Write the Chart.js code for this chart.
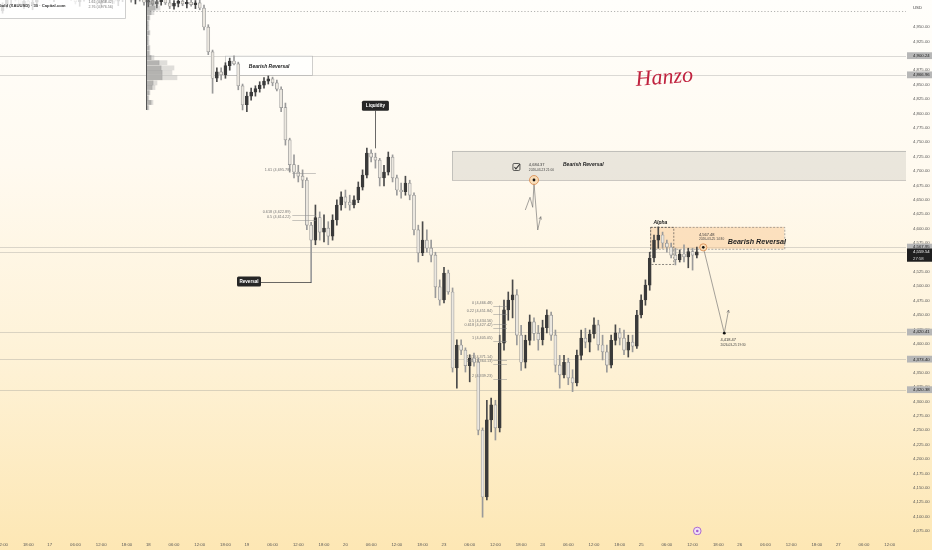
<!DOCTYPE html>
<html><head><meta charset="utf-8">
<script src="https://cdn.jsdelivr.net/npm/chart.js@4.4.1/dist/chart.umd.min.js"></script>
<style>
html,body{margin:0;padding:0;}
body{width:932px;height:550px;overflow:hidden;background:linear-gradient(180deg,#fffefb 0%,#fffaf0 30%,#fef2d7 65%,#fde7b4 100%);}
canvas{display:block;}
</style></head><body>
<canvas id="c" width="932" height="550"></canvas>
<script>
// ---------- DATA (hourly candles, hour index 0 = start of day 17) ----------
const firstHour = -12;
const open = [
4985,4978,4988,4998,5004,5000,4990,4995,4988,4993,5003,5009,
5006,5001,5008,5015,5012,5006,5000,4994,4999,5007,5004,4997,
4991,4996,5003,5000,4995,4998,5005,5002,4997,5001,4999,4993,
4996,4990,4994,4998,4992,4986,4991,4995,4990,4993,4989,4992,
4983,4950,4907,4861,4872,4867,4883,4891,4886,4848,4815,4830,
4837,4843,4849,4856,4860,4853,4842,4810,4754,4711,4698,4691,
4684,4606,4580,4619,4594,4601,4587,4615,4641,4655,4646,4641,
4650,4672,4693,4731,4724,4719,4688,4698,4724,4688,4667,4664,
4679,4658,4598,4558,4580,4566,4554,4499,4476,4523,4490,4358,
4398,4389,4362,4375,4368,4250,4134,4268,4294,4254,4401,4459,
4476,4485,4415,4368,4406,4438,4418,4407,4428,4450,4415,4363,
4346,4368,4341,4332,4380,4410,4403,4417,4433,4398,4386,4363,
4406,4419,4410,4389,4403,4396,4450,4476,4502,4549,4580,4589,
4575,4568,4554,4546,4556,4551,4560,4554];
const high = [
5002,4992,5004,5010,5012,5008,5000,5006,4998,5008,5014,5016,
5015,5012,5020,5024,5018,5014,5010,5004,5012,5016,5011,5006,
5002,5008,5013,5009,5003,5010,5014,5008,5006,5011,5005,5002,
5004,4999,5003,5006,4999,4996,5001,5003,4998,5001,4996,4998,
4988,4954,4910,4879,4879,4888,4896,4900,4889,4851,4837,4844,
4848,4855,4862,4865,4863,4858,4846,4818,4757,4728,4710,4702,
4688,4611,4641,4629,4624,4612,4624,4650,4664,4667,4658,4657,
4681,4702,4740,4737,4731,4722,4710,4733,4728,4693,4679,4691,
4684,4662,4606,4612,4598,4580,4559,4511,4533,4528,4497,4407,
4407,4393,4381,4384,4375,4254,4302,4306,4302,4415,4476,4490,
4511,4494,4432,4415,4450,4445,4432,4441,4459,4455,4424,4380,
4380,4375,4355,4389,4424,4427,4424,4445,4441,4415,4398,4415,
4433,4427,4424,4415,4415,4458,4485,4511,4559,4589,4603,4594,
4580,4575,4566,4563,4572,4566,4566,4568];
const low = [
4972,4974,4983,4990,4995,4986,4982,4984,4980,4990,4998,5001,
4997,4994,5003,5008,5002,4996,4990,4986,4995,5000,4993,4988,
4984,4992,4997,4991,4987,4994,4999,4993,4990,4995,4988,4985,
4987,4983,4988,4989,4982,4981,4985,4987,4983,4986,4982,4980,
4945,4902,4835,4855,4858,4861,4875,4884,4841,4806,4803,4823,
4830,4837,4844,4851,4848,4839,4803,4745,4698,4688,4681,4671,
4598,4506,4572,4580,4577,4572,4580,4606,4632,4636,4632,4636,
4645,4667,4688,4716,4705,4674,4674,4693,4681,4658,4653,4658,
4650,4589,4542,4553,4559,4542,4480,4467,4471,4486,4351,4323,
4381,4351,4334,4361,4242,4099,4129,4247,4233,4247,4389,4441,
4445,4398,4354,4358,4398,4406,4389,4398,4419,4406,4351,4323,
4341,4329,4317,4327,4372,4393,4386,4410,4389,4372,4351,4358,
4398,4398,4381,4377,4386,4392,4445,4467,4493,4542,4566,4566,
4559,4549,4537,4542,4542,4532,4528,4549];
const close = [
4978,4988,4998,5004,5000,4990,4995,4988,4993,5003,5009,5006,
5001,5008,5015,5012,5006,5000,4994,4999,5007,5004,4997,4991,
4996,5003,5000,4995,4998,5005,5002,4997,5001,4999,4993,4996,
4990,4994,4998,4992,4986,4991,4995,4990,4993,4989,4992,4983,
4950,4907,4861,4872,4867,4883,4891,4886,4848,4815,4830,4837,
4843,4849,4856,4860,4853,4842,4810,4754,4711,4698,4691,4684,
4606,4580,4619,4594,4601,4587,4615,4641,4655,4646,4641,4650,
4672,4693,4731,4724,4719,4688,4698,4724,4688,4667,4664,4679,
4658,4598,4558,4580,4566,4554,4499,4476,4523,4490,4358,4398,
4389,4362,4375,4368,4250,4134,4268,4294,4254,4401,4459,4476,
4485,4415,4368,4406,4438,4418,4407,4428,4450,4415,4363,4346,
4368,4341,4332,4380,4410,4403,4417,4433,4398,4386,4363,4406,
4419,4410,4389,4403,4396,4450,4476,4502,4549,4580,4589,4575,
4568,4554,4546,4556,4551,4560,4554,4559.54];

// volume profile (fixed range) bins
const volPrices = [4992,4983,4975,4966,4957,4949,4940,4931,4923,4914,4905,4897,4888,4879,4871,4862,4853,4845,4836,4827,4819,4810];
const volDark   = [7,8,4,2,1,1,2,1,1,2,2,4,12,14,15,15,6,5,2,1,4,1];
const volLight  = [5,5,3,1,1,1,1,1,1,1,1,3,8,13,10,15,4,3,1,1,2,1];

// axis labels
const dayLabels = ['17','18','19','20','23','24','25','26','27'];
const hourLabels = ['06:00','12:00','18:00'];
const hourOffsets = [6,12,18];
const hoursPerDay = 23;
const priceTicks = [4075,4100,4125,4150,4175,4200,4225,4250,4275,4300,4325,4350,4375,4400,4425,4450,4475,4500,4525,4550,4575,4600,4625,4650,4675,4700,4725,4750,4775,4800,4825,4850,4875,4900,4925,4950];
const tagLabels = ['4,900.24','4,866.96','4,567.95','4,420.41','4,373.40','4,320.38'];
const tagPrices = [4900.24,4866.96,4567.95,4420.41,4373.40,4320.38];
const lastPrice = 4559.54, lastLabel = '4,559.54', countdown = '27:58';

// drawings (time in hours, price)
const levelPrices = [4900.24,4866.96,4567.95,4559.54,4420.41,4373.40,4320.38];
const dottedLevel = 4978.5, dottedFrom = 23.4;
const fibALabels = ['1.61 (4,695.78)','0.618 (4,622.89)','0.5 (4,614.22)'];
const fibAPrices = [4695.78,4622.89,4614.22];
const fibBLabels = ['0 (4,466.48)','0.22 (4,451.84)','0.5 (4,434.56)','0.618 (4,427.42)','1 (4,405.05)','1.61 (4,371.14)','1.65 (4,364.13)','2 (4,339.23)'];
const fibBPrices = [4466.48,4451.84,4434.56,4427.42,4405.05,4371.14,4364.13,4339.23];
const pathZoneT = [110.97,112.07,112.7,113.0,113.87,114.57];
const pathZoneP = [4632.3,4654.4,4637.0,4679.2,4597.6,4620.7];
const pathAlphaT = [152.5,157.4,158.4];
const pathAlphaP = [4567.48,4418.47,4458.7];

const times = open.map((_, i) => firstHour + i);
const up = times.map((_, i) => close[i] >= open[i]);
const xMin = -11.6, xMax = 199.8;

const xTicks = [];
for (let k = -1; k < dayLabels.length; k++) {
  const base = k * hoursPerDay;
  if (k >= 0) xTicks.push({value: base, label: dayLabels[k]});
  hourOffsets.forEach((h, j) => { const v = base + h; if (v >= xMin && v <= xMax) xTicks.push({value: v, label: hourLabels[j]}); });
}

const FONT = '"Liberation Sans", "DejaVu Sans", sans-serif';

function txt(ctx, s, x, y, font, color, align, base) {
  ctx.font = font; ctx.fillStyle = color; ctx.textAlign = align || 'left'; ctx.textBaseline = base || 'middle';
  ctx.fillText(s, x, y);
}
function poly(ctx, pts) { ctx.beginPath(); pts.forEach((p, i) => i ? ctx.lineTo(p[0], p[1]) : ctx.moveTo(p[0], p[1])); ctx.stroke(); }
function arrowHead(ctx, a, b, len) {
  const ang = Math.atan2(b[1] - a[1], b[0] - a[0]);
  ctx.beginPath();
  ctx.moveTo(b[0] - len * Math.cos(ang - 0.45), b[1] - len * Math.sin(ang - 0.45));
  ctx.lineTo(b[0], b[1]);
  ctx.lineTo(b[0] - len * Math.cos(ang + 0.45), b[1] - len * Math.sin(ang + 0.45));
  ctx.stroke();
}
function rrect(ctx, x, y, w, h, r) { ctx.beginPath(); if (ctx.roundRect) ctx.roundRect(x, y, w, h, r); else ctx.rect(x, y, w, h); }

const overlay = {
  id: 'overlay',
  beforeDatasetsDraw(chart) {
    const {ctx, chartArea: a, scales: {x, y}} = chart;
    const X = v => x.getPixelForValue(v), Y = v => y.getPixelForValue(v);
    ctx.save();
    ctx.beginPath(); ctx.rect(a.left, a.top, a.right - a.left, a.bottom - a.top); ctx.clip();
    ctx.strokeStyle = 'rgba(140,140,140,0.45)'; ctx.lineWidth = 0.7;
    levelPrices.forEach(p => { const yy = Math.round(Y(p)) + 0.5; poly(ctx, [[a.left, yy], [a.right, yy]]); });
    ctx.setLineDash([1.2, 2]); ctx.strokeStyle = 'rgba(120,120,120,0.8)';
    const dy = Math.round(Y(dottedLevel)) + 0.5; poly(ctx, [[X(dottedFrom), dy], [a.right, dy]]);
    ctx.setLineDash([]);
    ctx.fillStyle = 'rgba(255,255,253,0.75)'; ctx.strokeStyle = 'rgba(170,170,170,0.8)'; ctx.lineWidth = 0.7;
    let bx = X(40.9), by = Y(4900.24), bw = X(61.2) - bx, bh = Y(4866.96) - by;
    ctx.fillRect(bx, by, bw, bh); ctx.strokeRect(bx + 0.5, by + 0.5, bw, bh);
    ctx.fillStyle = 'rgba(205,202,194,0.42)'; ctx.strokeStyle = 'rgba(150,150,150,0.7)';
    bx = X(93.9); by = Y(4735); bw = a.right - bx; bh = Y(4684.37) - by;
    ctx.fillRect(bx, by, bw, bh); ctx.strokeRect(bx + 0.5, by + 0.5, bw, bh);
    ctx.fillStyle = 'rgba(248,196,140,0.45)';
    bx = X(140.1); by = Y(4603); bw = X(171.4) - bx; bh = Y(4565) - by;
    ctx.fillRect(bx, by, bw, bh);
    ctx.setLineDash([2, 1.5]); ctx.strokeStyle = 'rgba(110,110,110,0.8)'; ctx.lineWidth = 0.7;
    ctx.strokeRect(bx + 0.5, by + 0.5, bw, bh);
    const lx = X(140.1), rx = X(145.5), ty = Y(4603), btm = Y(4538.6);
    ctx.strokeStyle = 'rgba(60,60,60,0.85)';
    ctx.strokeRect(lx + 0.5, ty + 0.5, rx - lx, btm - ty);
    ctx.setLineDash([]);
    ctx.restore();
  },
  afterDatasetsDraw(chart) {
    const {ctx, chartArea: a, scales: {x, y, xv}} = chart;
    const X = v => x.getPixelForValue(v), Y = v => y.getPixelForValue(v);
    ctx.save();
    ctx.beginPath(); ctx.rect(a.left, a.top, a.right - a.left, a.bottom - a.top); ctx.clip();
    ctx.strokeStyle = '#555'; ctx.lineWidth = 1;
    const vx = Math.round(xv.getPixelForValue(0)) - 0.5;
    poly(ctx, [[vx, a.top], [vx, Y(4806)]]);
    const biFont = s => 'italic bold ' + s + 'px ' + FONT;
    txt(ctx, 'Bearish Reversal', X(51.2), Y(4882), biFont(5), '#222', 'center');
    txt(ctx, 'Bearish Reversal', X(124.5), Y(4710.4), biFont(5), '#222', 'center');
    const cx = X(108.9), cy = Y(4707);
    ctx.strokeStyle = '#333'; ctx.lineWidth = 0.8;
    rrect(ctx, cx - 3.5, cy - 3.5, 7, 7, 1.2); ctx.stroke();
    ctx.lineWidth = 1.1; poly(ctx, [[cx - 2, cy], [cx - 0.5, cy + 1.8], [cx + 3.5, cy - 3]]);
    txt(ctx, '4,684.37', X(111.8), Y(4711), '4px ' + FONT, '#333', 'left');
    txt(ctx, '2026-03-23 21:00', X(111.8), Y(4701), '3.2px ' + FONT, '#444', 'left');
    ctx.strokeStyle = 'rgba(110,110,110,0.9)'; ctx.lineWidth = 0.7;
    const zp = pathZoneT.map((t, i) => [X(t), Y(pathZoneP[i])]);
    poly(ctx, zp); arrowHead(ctx, zp[zp.length - 2], zp[zp.length - 1], 3);
    const c1x = X(113.0), c1y = Y(4684.37);
    ctx.fillStyle = 'rgba(250,220,180,0.9)'; ctx.strokeStyle = '#d9884a'; ctx.lineWidth = 0.8;
    ctx.beginPath(); ctx.arc(c1x, c1y, 4.5, 0, Math.PI * 2); ctx.fill(); ctx.stroke();
    ctx.fillStyle = '#111'; ctx.beginPath(); ctx.arc(c1x, c1y, 1.4, 0, Math.PI * 2); ctx.fill();
    ctx.strokeStyle = '#444'; ctx.lineWidth = 0.8;
    poly(ctx, [[Math.round(X(76.0)) + 0.5, Y(4804.7)], [Math.round(X(76.0)) + 0.5, Y(4739.4)]]);
    ctx.fillStyle = '#262626'; rrect(ctx, X(76.0) - 13.5, Y(4813.4) - 5, 27, 10, 1.5); ctx.fill();
    txt(ctx, 'Liquidity', X(76.0), Y(4813.4) + 0.3, 'bold 4.6px ' + FONT, '#fff', 'center');
    ctx.strokeStyle = '#444'; poly(ctx, [[X(49.3), Math.round(Y(4508)) + 0.5], [X(61.0), Math.round(Y(4508)) + 0.5]]);
    ctx.fillStyle = '#262626'; rrect(ctx, X(46.5) - 12, Y(4508) - 5, 24, 10, 1.5); ctx.fill();
    txt(ctx, 'Reversal', X(46.5), Y(4508) + 0.3, 'bold 4.6px ' + FONT, '#fff', 'center');
    ctx.strokeStyle = 'rgba(140,140,140,0.8)'; ctx.lineWidth = 0.6;
    fibAPrices.forEach((p, i) => {
      const yy = Math.round(Y(p)) + 0.5;
      poly(ctx, [[X(56.6), yy], [X(62.1), yy]]);
      txt(ctx, fibALabels[i], X(56.2), yy - 4, '3.8px ' + FONT, '#777', 'right');
    });
    fibBPrices.forEach((p, i) => {
      const yy = Math.round(Y(p)) + 0.5;
      poly(ctx, [[X(103.5), yy], [X(106.7), yy]]);
      txt(ctx, fibBLabels[i], X(103.3), yy - 4, '3.8px ' + FONT, '#777', 'right');
    });
    poly(ctx, [[Math.round(X(104.8)) + 0.5, Y(4466.48)], [Math.round(X(104.8)) + 0.5, Y(4339.23)]]);
    txt(ctx, 'Alpha', X(142.5), Y(4609.8), biFont(5), '#222', 'center');
    txt(ctx, '4,567.48', X(151.5), Y(4589.8), '4px ' + FONT, '#333', 'left');
    txt(ctx, '2026-03-25 14:30', X(151.5), Y(4582.6), '3.2px ' + FONT, '#444', 'left');
    txt(ctx, 'Bearish Reversal', X(165.0), Y(4576), biFont(7.2), '#1e1e1e', 'center');
    ctx.strokeStyle = 'rgba(110,110,110,0.9)'; ctx.lineWidth = 0.7;
    const ap = pathAlphaT.map((t, i) => [X(t), Y(pathAlphaP[i])]);
    poly(ctx, ap); arrowHead(ctx, ap[1], ap[2], 3);
    ctx.fillStyle = 'rgba(250,220,180,0.9)'; ctx.strokeStyle = '#d9884a'; ctx.lineWidth = 0.8;
    ctx.beginPath(); ctx.arc(ap[0][0], ap[0][1], 3.6, 0, Math.PI * 2); ctx.fill(); ctx.stroke();
    ctx.fillStyle = '#111'; ctx.beginPath(); ctx.arc(ap[0][0], ap[0][1], 1.3, 0, Math.PI * 2); ctx.fill();
    ctx.beginPath(); ctx.arc(ap[1][0], ap[1][1], 1.4, 0, Math.PI * 2); ctx.fill();
    txt(ctx, '4,418.47', X(156.5), Y(4406), '4px ' + FONT, '#333', 'left');
    txt(ctx, '2026-03-25 19:30', X(156.5), Y(4397.5), '3.2px ' + FONT, '#444', 'left');
    ctx.save();
    ctx.translate(X(143.4), Y(4861.5)); ctx.rotate(-0.08);
    txt(ctx, 'Hanzo', 0, 0, 'italic 22px "Liberation Serif", "DejaVu Serif", serif', '#c0233f', 'center');
    ctx.restore();
    const px = X(151.1), py = a.bottom - 4;
    ctx.strokeStyle = '#a35bd0'; ctx.fillStyle = 'rgba(240,225,250,0.9)'; ctx.lineWidth = 0.9;
    ctx.beginPath(); ctx.arc(px, py, 3.8, 0, Math.PI * 2); ctx.fill(); ctx.stroke();
    ctx.fillStyle = '#a35bd0'; ctx.beginPath(); ctx.arc(px, py, 1.3, 0, Math.PI * 2); ctx.fill();
    ctx.restore();
  },
  afterDraw(chart) {
    const {ctx, scales: {y}} = chart;
    const Y = v => y.getPixelForValue(v);
    ctx.save();
    const L = y.left + 1, W = y.right - y.left - 1;
    txt(ctx, 'USD', L + 6, 8, '4.3px ' + FONT, '#444', 'left');
    tagPrices.forEach((p, i) => {
      const yy = Y(p);
      ctx.fillStyle = '#b7b7b7'; ctx.fillRect(L, yy - 3.4, W, 6.8);
      txt(ctx, tagLabels[i], L + 6, yy + 0.2, '4.3px ' + FONT, '#1a1a1a', 'left');
    });
    const ly = Y(lastPrice);
    ctx.fillStyle = '#1f1f1f'; ctx.fillRect(L, ly - 3.4, W, 13.2);
    txt(ctx, lastLabel, L + 6, ly + 0.2, '4.3px ' + FONT, '#fff', 'left');
    txt(ctx, countdown, L + 6, ly + 6.6, '4.3px ' + FONT, '#ddd', 'left');
    ctx.fillStyle = 'rgba(255,255,255,0.82)'; ctx.fillRect(0, 0, 125, 18);
    ctx.strokeStyle = 'rgba(190,190,190,0.9)'; ctx.lineWidth = 0.8; ctx.strokeRect(-1, -1, 126.5, 19.5);
    txt(ctx, 'Gold (XAUUSD) · 30 · Capital.com', -1.5, 6.3, 'bold 4.2px ' + FONT, '#333', 'left');
    txt(ctx, '1.61 (4,958.42)', 113, 1.6, '3.6px ' + FONT, '#777', 'right');
    txt(ctx, '2.76 (4,976.56)', 113, 7, '3.6px ' + FONT, '#777', 'right');
    ctx.restore();
  }
};

new Chart(document.getElementById('c'), {
  type: 'bar',
  data: {
    datasets: [
      { label: 'wick', data: times.map((t, i) => ({x: t, y: [low[i], high[i]]})),
        backgroundColor: up.map(u => u ? '#4a4a4a' : '#9a9a9a'), barThickness: 1, grouped: false, order: 3 },
      { label: 'body', data: times.map((t, i) => ({x: t, y: [open[i], close[i]]})),
        backgroundColor: up.map(u => u ? '#3a3a3a' : '#ebe7df'), borderColor: up.map(u => u ? '#3a3a3a' : '#8f8f8f'),
        borderWidth: 0.7, borderSkipped: false, barThickness: 3, minBarLength: 1, grouped: false, order: 2 },
      { label: 'volDark', indexAxis: 'y', xAxisID: 'xv', yAxisID: 'y',
        data: volPrices.map((p, i) => ({y: p, x: [0, volDark[i]]})),
        backgroundColor: 'rgba(130,130,130,0.6)', barThickness: 4.2, grouped: false, order: 1 },
      { label: 'volLight', indexAxis: 'y', xAxisID: 'xv', yAxisID: 'y',
        data: volPrices.map((p, i) => ({y: p, x: [volDark[i], volDark[i] + volLight[i]]})),
        backgroundColor: 'rgba(175,175,175,0.4)', barThickness: 4.2, grouped: false, order: 1 }
    ]
  },
  options: {
    responsive: false, animation: false, events: [],
    layout: {padding: 0},
    plugins: {legend: {display: false}, tooltip: {enabled: false}},
    scales: {
      x: {
        type: 'linear', min: xMin, max: xMax, offset: false,
        grid: {display: false, drawTicks: false, offset: false}, border: {display: false},
        afterBuildTicks: s => { s.ticks = xTicks.map(t => ({value: t.value})); },
        ticks: { autoSkip: false, maxRotation: 0, padding: 7, color: '#555', font: {size: 4.3, family: FONT},
          callback: (v, i) => xTicks[i] ? xTicks[i].label : '' },
        afterFit: s => { s.height = 15; s.paddingLeft = 0; s.paddingRight = 0; }
      },
      y: {
        type: 'linear', position: 'right', min: 4068.1, max: 4996.9, offset: false, beginAtZero: false,
        grid: {display: false, drawTicks: false, offset: false}, border: {display: false},
        afterBuildTicks: s => { s.ticks = priceTicks.map(v => ({value: v})); },
        ticks: { padding: 7, color: '#555', font: {size: 4.3, family: FONT},
          callback: v => Number(v).toLocaleString('en-US', {minimumFractionDigits: 2, maximumFractionDigits: 2}) },
        afterFit: s => { s.width = 26; s.paddingTop = 0; s.paddingBottom = 0; }
      },
      xv: { type: 'linear', axis: 'x', display: false, offset: false, grid: {offset: false}, min: -147, max: 759 }
    }
  },
  plugins: [overlay]
});
</script>
</body></html>
